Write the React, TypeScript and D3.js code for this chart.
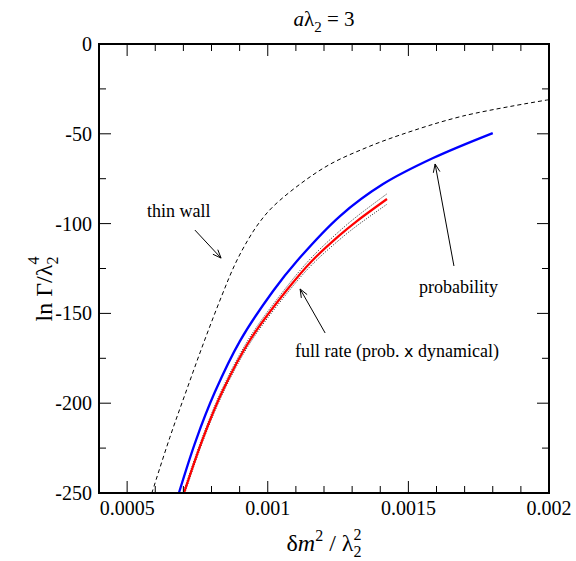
import React from "react";
import * as d3 from "d3";

// Thin-wall approximation (dashed)
const thinWallX = [0.000588, 0.000652, 0.000713, 0.000773, 0.000837, 0.000884, 0.00093, 0.000972, 0.001019, 0.001115, 0.001221, 0.001346, 0.00147, 0.001694, 0.002];
const thinWallY = [-250, -219, -192, -166, -140, -122.5, -109, -99, -90.5, -78, -67, -58, -50.7, -40.1, -31];

// Probability (blue)
const probX = [0.000684, 0.000745, 0.000812, 0.000901, 0.001019, 0.001104, 0.001257, 0.00141, 0.001588, 0.0018];
const probY = [-250, -220.5, -193.8, -165.4, -137.5, -120.8, -95.8, -78.0, -63.5, -49.6];

// Full rate (red) with its uncertainty band (dotted)
const rateX = [0.000702, 0.00077, 0.000841, 0.000937, 0.001068, 0.001157, 0.001257, 0.001317, 0.001424];
const rateY = [-250, -219.4, -192.7, -164.8, -137.0, -120.8, -106.3, -98.6, -86.3];
const rateErr = [1.5, 1.5, 1.6, 1.7, 1.9, 2.1, 2.4, 2.6, 2.9];

const xMajorTicks = [0.0005, 0.001, 0.0015, 0.002];
const xTickLabels = ["0.0005", "0.001", "0.0015", "0.002"];
const yMajorTicks = [0, -50, -100, -150, -200, -250];
const yTickLabels = ["0", "-50", "-100", "-150", "-200", "-250"];

const W = 576;
const H = 561;
const L = 99, R = 549, T = 44, B = 493;
const serif = '"Liberation Serif", "Times New Roman", Times, serif';

export default function App() {
  const x = d3.scaleLinear().domain([0.0004, 0.002]).range([L, R]);
  const y = d3.scaleLinear().domain([-250, 0]).range([B, T]);

  const line = (xs: number[], ys: number[]) =>
    d3
      .line<number>()
      .x((_, i) => x(xs[i]))
      .y((d) => y(d))
      .curve(d3.curveCatmullRom.alpha(0.5))(ys) || "";

  const xMinor = d3.range(4, 21).map((v) => v / 10000).filter((v) => !xMajorTicks.some((m) => Math.abs(m - v) < 1e-9));
  const yMinor = d3.range(-250, 1, 25).filter((v) => v % 50 !== 0);

  const arrow = (x1: number, y1: number, x2: number, y2: number, key: string) => {
    const ax = x(x1), ay = y(y1), bx = x(x2), by = y(y2);
    const ang = Math.atan2(by - ay, bx - ax);
    const len = 9, half = 0.38;
    const p1 = [bx - len * Math.cos(ang - half), by - len * Math.sin(ang - half)];
    const p2 = [bx - len * Math.cos(ang + half), by - len * Math.sin(ang + half)];
    return (
      <g key={key} stroke="#000" strokeWidth={1} fill="none">
        <line x1={ax} y1={ay} x2={bx} y2={by} />
        <polyline points={`${p1[0]},${p1[1]} ${bx},${by} ${p2[0]},${p2[1]}`} />
      </g>
    );
  };

  return (
    <svg
      width={W}
      height={H}
      style={{ position: "absolute", left: 0, top: 0, background: "#fff", fontFamily: serif }}
    >
      <defs>
        <clipPath id="plot">
          <rect x={L} y={T} width={R - L} height={B - T} />
        </clipPath>
      </defs>

      {/* title */}
      <text x={(L + R) / 2} y={26} fontSize={21} textAnchor="middle" style={{ fontFamily: serif }}>
        <tspan fontStyle="italic">a</tspan>λ<tspan fontSize={15} dy={6}>2</tspan>
        <tspan dy={-6}> = 3</tspan>
      </text>

      {/* curves */}
      <g clipPath="url(#plot)" fill="none">
        <path d={line(thinWallX, thinWallY)} stroke="#000" strokeWidth={1} strokeDasharray="4,3" />
        <path d={line(probX, probY)} stroke="#0000ff" strokeWidth={2.3} />
        <path d={line(rateX, rateY.map((v, i) => v + rateErr[i]))} stroke="#000" strokeWidth={1} strokeDasharray="1,1.5" opacity={0.85} />
        <path d={line(rateX, rateY.map((v, i) => v - rateErr[i]))} stroke="#000" strokeWidth={1} strokeDasharray="1,1.5" opacity={0.85} />
        <path d={line(rateX, rateY)} stroke="#ff0000" strokeWidth={2.2} />
      </g>

      {/* ticks on all four sides */}
      <g stroke="#000" strokeWidth={1}>
        {xMajorTicks.map((v) => (
          <g key={`xM${v}`}>
            <line x1={x(v)} x2={x(v)} y1={B} y2={B - 12} />
            <line x1={x(v)} x2={x(v)} y1={T} y2={T + 12} />
          </g>
        ))}
        {xMinor.map((v) => (
          <g key={`xm${v}`}>
            <line x1={x(v)} x2={x(v)} y1={B} y2={B - 7} />
            <line x1={x(v)} x2={x(v)} y1={T} y2={T + 7} />
          </g>
        ))}
        {yMajorTicks.map((v) => (
          <g key={`yM${v}`}>
            <line x1={L} x2={L + 12} y1={y(v)} y2={y(v)} />
            <line x1={R} x2={R - 12} y1={y(v)} y2={y(v)} />
          </g>
        ))}
        {yMinor.map((v) => (
          <g key={`ym${v}`}>
            <line x1={L} x2={L + 7} y1={y(v)} y2={y(v)} />
            <line x1={R} x2={R - 7} y1={y(v)} y2={y(v)} />
          </g>
        ))}
      </g>

      {/* frame */}
      <rect x={L} y={T} width={R - L} height={B - T} fill="none" stroke="#000" strokeWidth={2} />

      {/* tick labels */}
      <g fontSize={20} style={{ fontFamily: serif }}>
        {xMajorTicks.map((v, i) => (
          <text key={`xl${v}`} x={x(v)} y={B + 22} textAnchor="middle">
            {xTickLabels[i]}
          </text>
        ))}
        {yMajorTicks.map((v, i) => (
          <text key={`yl${v}`} x={L - 7} y={y(v)} dy="0.35em" textAnchor="end">
            {yTickLabels[i]}
          </text>
        ))}
      </g>

      {/* axis labels */}
      <text x={(L + R) / 2} y={551} fontSize={24} textAnchor="middle" style={{ fontFamily: serif }}>
        δ<tspan fontStyle="italic">m</tspan>
        <tspan fontSize={16} dy={-10}>2</tspan>
        <tspan dy={10}> / λ</tspan>
        <tspan fontSize={16} dy={6}>2</tspan>
        <tspan fontSize={16} dx={-8} dy={-17}>2</tspan>
      </text>
      <text transform={`translate(52,289) rotate(-90)`} fontSize={24} textAnchor="middle" style={{ fontFamily: serif }}>
        ln Γ/λ<tspan fontSize={16} dy={6}>2</tspan>
        <tspan fontSize={16} dx={-8} dy={-19}>4</tspan>
      </text>

      {/* annotations */}
      <g fontSize={18} style={{ fontFamily: serif }}>
        <text x={x(0.000571)} y={y(-96.3)}>thin wall</text>
        <text x={x(0.001538)} y={y(-138.6)}>probability</text>
        <text x={x(0.001097)} y={y(-174.3)}>
          full rate (prob. <tspan style={{ fontFamily: '"DejaVu Sans", sans-serif' }} fontSize={16}>x</tspan> dynamical)
        </text>
      </g>
      {arrow(0.000741, -103.6, 0.000834, -119.2, "a1")}
      {arrow(0.001204, -160.9, 0.001115, -136.4, "a2")}
      {arrow(0.001662, -123.6, 0.001595, -66.8, "a3")}
    </svg>
  );
}
